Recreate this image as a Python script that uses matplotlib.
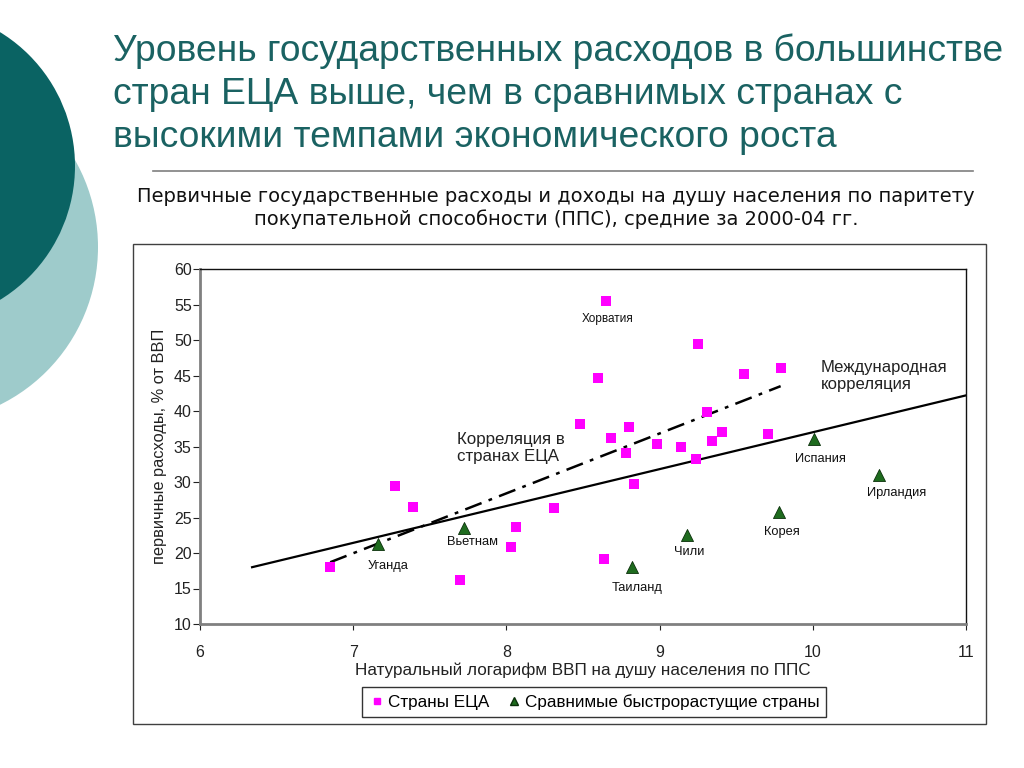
import matplotlib
matplotlib.use("Agg")
import matplotlib.pyplot as plt
from matplotlib.patches import Circle, Rectangle
from matplotlib.lines import Line2D

# ---- data ----
eca_x = [6.85, 7.27, 7.39, 7.70, 8.06, 8.03, 8.65, 9.25, 8.60, 9.55, 9.79, 8.48, 8.80,
         8.68, 9.31, 9.41, 9.34, 9.71, 8.98, 9.14, 8.78, 9.24, 8.83, 8.31, 8.64]
eca_y = [18.0, 29.5, 26.5, 16.2, 23.6, 20.9, 55.5, 49.4, 44.6, 45.2, 46.0, 38.1, 37.8,
         36.2, 39.8, 37.1, 35.8, 36.7, 35.4, 35.0, 34.1, 33.3, 29.7, 26.3, 19.1]

comp_names = ["Уганда", "Вьетнам", "Таиланд", "Чили", "Корея", "Испания", "Ирландия"]
comp_x = [7.16, 7.72, 8.82, 9.18, 9.78, 10.01, 10.43]
comp_y = [21.3, 23.5, 18.0, 22.5, 25.8, 36.0, 31.0]

intl_line_x = [6.34, 11.0]
intl_line_y = [18.0, 42.2]
eca_line_x = [6.85, 9.79]
eca_line_y = [18.7, 43.5]

x_ticks = [6, 7, 8, 9, 10, 11]
y_ticks = [10, 15, 20, 25, 30, 35, 40, 45, 50, 55, 60]

ARIAL = "Liberation Sans"
W, H = 1024, 768

fig = plt.figure(figsize=(W / 100, H / 100), dpi=100)
fig.patch.set_facecolor("white")

def fx(px):
    return px / W

def fy(py):
    return 1 - py / H

# decorative circles
bg = fig.add_axes([0, 0, 1, 1], zorder=0)
bg.set_xlim(0, W)
bg.set_ylim(H, 0)
bg.set_aspect("equal")
bg.axis("off")
bg.add_patch(Circle((-78, 247), 176, color="#9ecbcb", lw=0))
bg.add_patch(Circle((-82, 166), 157, color="#0a6363", lw=0))
# separator line
bg.plot([153, 973], [171, 171], color="#7f7f7f", lw=1.2)
# chart frame
bg.add_patch(Rectangle((133, 244), 853, 480, fill=False, edgecolor="#404040", lw=1.0))

# title
fig.text(fx(113), fy(94.5), "Уровень государственных расходов в большинстве\nстран ЕЦА выше, чем в сравнимых странах с\nвысокими темпами экономического роста",
         ha="left", va="center", fontsize=26.8, color="#1a6262", family=ARIAL,
         linespacing=1.3)

# subtitle
fig.text(fx(556), fy(208), "Первичные государственные расходы и доходы на душу населения по паритету\nпокупательной способности (ППС), средние за 2000-04 гг.",
         ha="center", va="center", fontsize=14, color="#111111", family="DejaVu Sans",
         linespacing=1.18)

# main axes
ax = fig.add_axes([fx(200), fy(624), fx(966) - fx(200), fy(269) - fy(624)], zorder=2)
ax.set_facecolor("none")
ax.set_xlim(6, 11)
ax.set_ylim(10, 60)
ax.set_xticks(x_ticks)
ax.set_yticks(y_ticks)
ax.tick_params(axis="x", direction="out", length=4, pad=11, labelsize=11.5, colors="#222222")
ax.tick_params(axis="y", direction="out", length=5, pad=1, labelsize=11.5, colors="#222222")
for lab in ax.get_xticklabels() + ax.get_yticklabels():
    lab.set_family(ARIAL)
for s in ["left", "bottom"]:
    ax.spines[s].set_color("#808080")
    ax.spines[s].set_linewidth(2)
for s in ["top", "right"]:
    ax.spines[s].set_color("#111111")
    ax.spines[s].set_linewidth(1)

ax.plot(intl_line_x, intl_line_y, color="black", lw=1.6, zorder=2)
ax.plot(eca_line_x, eca_line_y, color="black", lw=1.8, dashes=(7, 3, 1.5, 3), zorder=2)

ax.scatter(eca_x, eca_y, marker="s", s=42, color="#ff00ff", zorder=3, linewidths=0)
ax.scatter(comp_x, comp_y, marker="^", s=75, color="#1e6b1e", edgecolors="#0a300a",
           linewidths=0.6, zorder=3)

label_pos = {
    "Уганда": (7.23, 18.2),
    "Вьетнам": (7.78, 21.6),
    "Таиланд": (8.85, 15.1),
    "Чили": (9.19, 20.2),
    "Корея": (9.80, 22.9),
    "Испания": (10.05, 33.3),
    "Ирландия": (10.55, 28.5),
}
for name in comp_names:
    lx, ly = label_pos[name]
    ax.text(lx, ly, name, ha="center", va="center", fontsize=9.3, family=ARIAL, color="#111111")
ax.text(8.66, 52.9, "Хорватия", ha="center", va="center", fontsize=8.5, family=ARIAL, color="#111111")

ax.text(7.68, 37.0, "Корреляция в\nстранах ЕЦА", ha="left", va="top", fontsize=12.2,
        family=ARIAL, color="#222222", linespacing=1.15)
ax.text(10.05, 47.2, "Международная\nкорреляция", ha="left", va="top", fontsize=12,
        family=ARIAL, color="#222222", linespacing=1.15)

ax.set_xlabel("Натуральный логарифм ВВП на душу населения по ППС", fontsize=12.3,
              family=ARIAL, color="#222222", labelpad=2)
ax.set_ylabel("первичные расходы, % от ВВП", fontsize=11.8, family=ARIAL, color="#222222",
              labelpad=5)

handles = [
    Line2D([], [], marker="s", color="#ff00ff", ls="none", markersize=5),
    Line2D([], [], marker="^", color="#1e6b1e", markeredgecolor="#0a300a", ls="none", markersize=6),
]
leg = fig.legend(handles, ["Страны ЕЦА", "Сравнимые быстрорастущие страны"], loc="center",
                 bbox_to_anchor=(fx(594), fy(702)), ncol=2, frameon=True, fancybox=False,
                 edgecolor="black", prop={"family": ARIAL, "size": 12.3}, handletextpad=0.1,
                 columnspacing=1.0, handlelength=1.0, borderpad=0.4)
leg.get_frame().set_linewidth(1.0)

fig.savefig("out.png", dpi=100, facecolor="white")
